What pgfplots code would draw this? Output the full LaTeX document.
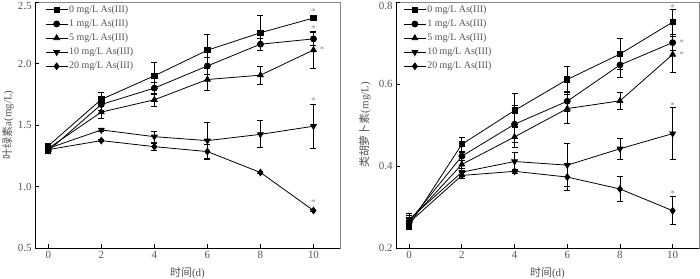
\documentclass[border=0pt]{standalone}
\usepackage{fontspec}
\setmainfont{Liberation Serif}
\newfontfamily\cjk{Noto Sans CJK SC}
\usepackage{pgfplots}
\pgfplotsset{compat=1.18}
\definecolor{txt}{HTML}{555555}
\definecolor{frm}{HTML}{888888}
\tikzset{ast/.style={font=\fontsize{9}{9}\selectfont, text=frm, inner sep=0pt}}
\pgfplotsset{
  myax/.style={
    scale only axis, anchor=south west,
    xmin=-0.5, xmax=11,
    xtick={0,2,4,6,8,10},
    tick align=inside, xtick pos=bottom, ytick pos=left,
    major tick length=4bp,
    tick style={black, line width=0.8bp},
    axis line style={frm, line width=0.8bp},
    /pgf/number format/assume math mode=true,
    ticklabel style={font=\fontsize{11}{11}\selectfont, text=txt},
    yticklabel style={/pgf/number format/fixed, /pgf/number format/fixed zerofill, /pgf/number format/precision=1},
    extra y tick style={yticklabel style={yshift=-3.5bp}},
    label style={font=\fontsize{11}{12}\selectfont, text=txt},
    x label style={at={(axis description cs:0.5,0)}, anchor=center, yshift=-25bp},
    legend image code/.code={\draw[mark repeat=2,mark phase=2,##1] plot coordinates {(0bp,0bp)(11bp,0bp)(22bp,0bp)};},
    legend style={draw=none, fill=none, font=\fontsize{10}{11}\selectfont, text=txt,
      anchor=north west, inner sep=0pt, row sep=3.7bp,
      nodes={inner sep=1bp}},
    legend cell align=left,
  },
  sr/.style={black, line width=0.8bp, mark options={solid, fill=black},
    error bars/y dir=both, error bars/y explicit,
    error bars/error bar style={black, line width=0.8bp},
    error bars/error mark options={black, line width=0.8bp, mark size=3bp, rotate=90}},
  m1/.style={sr, mark=square*, mark size=2.6bp},
  m2/.style={sr, mark=*, mark size=3bp},
  m3/.style={sr, mark=triangle*, mark size=3.3bp},
  m4/.style={sr, mark=triangle*, mark size=3.3bp, mark options={rotate=180}},
  m5/.style={sr, mark=diamond*, mark size=3.3bp},
}
\begin{document}
\begin{tikzpicture}[x=1bp,y=1bp]
\useasboundingbox (0,0) rectangle (700,278);
% left panel
\begin{axis}[myax, at={(35bp,30bp)}, width=305bp, height=246bp,
  ymin=0.5, ymax=2.5, ytick={0.5,1.0,1.5,2.0}, extra y ticks={2.5},
  xlabel={{\cjk 时间}(d)},
  ylabel={{\cjk 叶绿素}a(mg/L)},
  y label style={at={(axis description cs:-0.0885,0.5)}, anchor=center},
  legend style={at={(axis description cs:0.033,0.99)}},
]
\addplot[m1] coordinates {(0,1.33)+-(0,0.02) (2,1.708)+-(0,0.055) (4,1.90)+-(0,0.11) (6,2.108)+-(0,0.13) (8,2.25)+-(0,0.145) (10,2.37)+-(0,0.0)};
\addlegendentry{0 mg/L As(III)}
\addplot[m2] coordinates {(0,1.29)+-(0,0.02) (2,1.667)+-(0,0.05) (4,1.80)+-(0,0.05) (6,1.98)+-(0,0.07) (8,2.157)+-(0,0.05) (10,2.20)+-(0,0.055)};
\addlegendentry{1 mg/L As(III)}
\addplot[m3] coordinates {(0,1.31)+-(0,0.02) (2,1.605)+-(0,0.055) (4,1.705)+-(0,0.05) (6,1.87)+-(0,0.09) (8,1.905)+-(0,0.075) (10,2.11)+-(0,0.15)};
\addlegendentry{5 mg/L As(III)}
\addplot[m4] coordinates {(0,1.31)+-(0,0.02) (2,1.46)+-(0,0.01) (4,1.405)+-(0,0.045) (6,1.373)+-(0,0.145) (8,1.424)+-(0,0.11) (10,1.49)+-(0,0.177)};
\addlegendentry{10 mg/L As(III)}
\addplot[m5] coordinates {(0,1.30)+-(0,0.02) (2,1.373)+-(0,0.01) (4,1.324)+-(0,0.03) (6,1.284)+-(0,0.06) (8,1.114)+-(0,0.01) (10,0.805)+-(0,0.01)};
\addlegendentry{20 mg/L As(III)}
\node[ast] at (axis cs:10,2.425) {*};
\node[ast] at (axis cs:10,2.285) {*};
\node[ast] at (axis cs:10.33,2.115) {*};
\node[ast] at (axis cs:10,1.70) {*};
\node[ast] at (axis cs:10,0.87) {*};
\draw[black, line width=1bp] (rel axis cs:0,1) -- (rel axis cs:0,0) -- (rel axis cs:1,0);
\end{axis}
% right panel
\begin{axis}[myax, at={(396bp,30bp)}, width=303bp, height=246bp,
  ymin=0.2, ymax=0.8, ytick={0.2,0.4,0.6}, extra y ticks={0.8},
  xlabel={{\cjk 时间}(d)},
  ylabel={{\cjk 类胡萝卜素}(mg/L)},
  y label style={at={(axis description cs:-0.1023,0.5)}, anchor=center},
  legend style={at={(axis description cs:0.024,0.99)}},
]
\addplot[m1] coordinates {(0,0.255)+-(0,0.01) (2,0.453)+-(0,0.017) (4,0.5355)+-(0,0.041) (6,0.611)+-(0,0.032) (8,0.673)+-(0,0.038) (10,0.751)+-(0,0.03)};
\addlegendentry{0 mg/L As(III)}
\addplot[m2] coordinates {(0,0.265)+-(0,0.02) (2,0.424)+-(0,0.01) (4,0.502)+-(0,0.045) (6,0.558)+-(0,0.025) (8,0.6465)+-(0,0.03) (10,0.701)+-(0,0.02)};
\addlegendentry{1 mg/L As(III)}
\addplot[m3] coordinates {(0,0.265)+-(0,0.01) (2,0.404)+-(0,0.01) (4,0.471)+-(0,0.025) (6,0.54)+-(0,0.035) (8,0.559)+-(0,0.02) (10,0.672)+-(0,0.043)};
\addlegendentry{5 mg/L As(III)}
\addplot[m4] coordinates {(0,0.27)+-(0,0.01) (2,0.385)+-(0,0.01) (4,0.411)+-(0,0.021) (6,0.402)+-(0,0.052) (8,0.442)+-(0,0.025) (10,0.479)+-(0,0.063)};
\addlegendentry{10 mg/L As(III)}
\addplot[m5] coordinates {(0,0.262)+-(0,0.01) (2,0.377)+-(0,0.008) (4,0.387)+-(0,0.005) (6,0.373)+-(0,0.033) (8,0.344)+-(0,0.03) (10,0.291)+-(0,0.034)};
\addlegendentry{20 mg/L As(III)}
\node[ast] at (axis cs:10,0.787) {*};
\node[ast] at (axis cs:10.35,0.70) {*};
\node[ast] at (axis cs:10.35,0.672) {*};
\node[ast] at (axis cs:10,0.548) {*};
\node[ast] at (axis cs:10,0.332) {*};
\draw[black, line width=1bp] (rel axis cs:0,1) -- (rel axis cs:0,0) -- (rel axis cs:1,0);
\end{axis}
\end{tikzpicture}
\end{document}
